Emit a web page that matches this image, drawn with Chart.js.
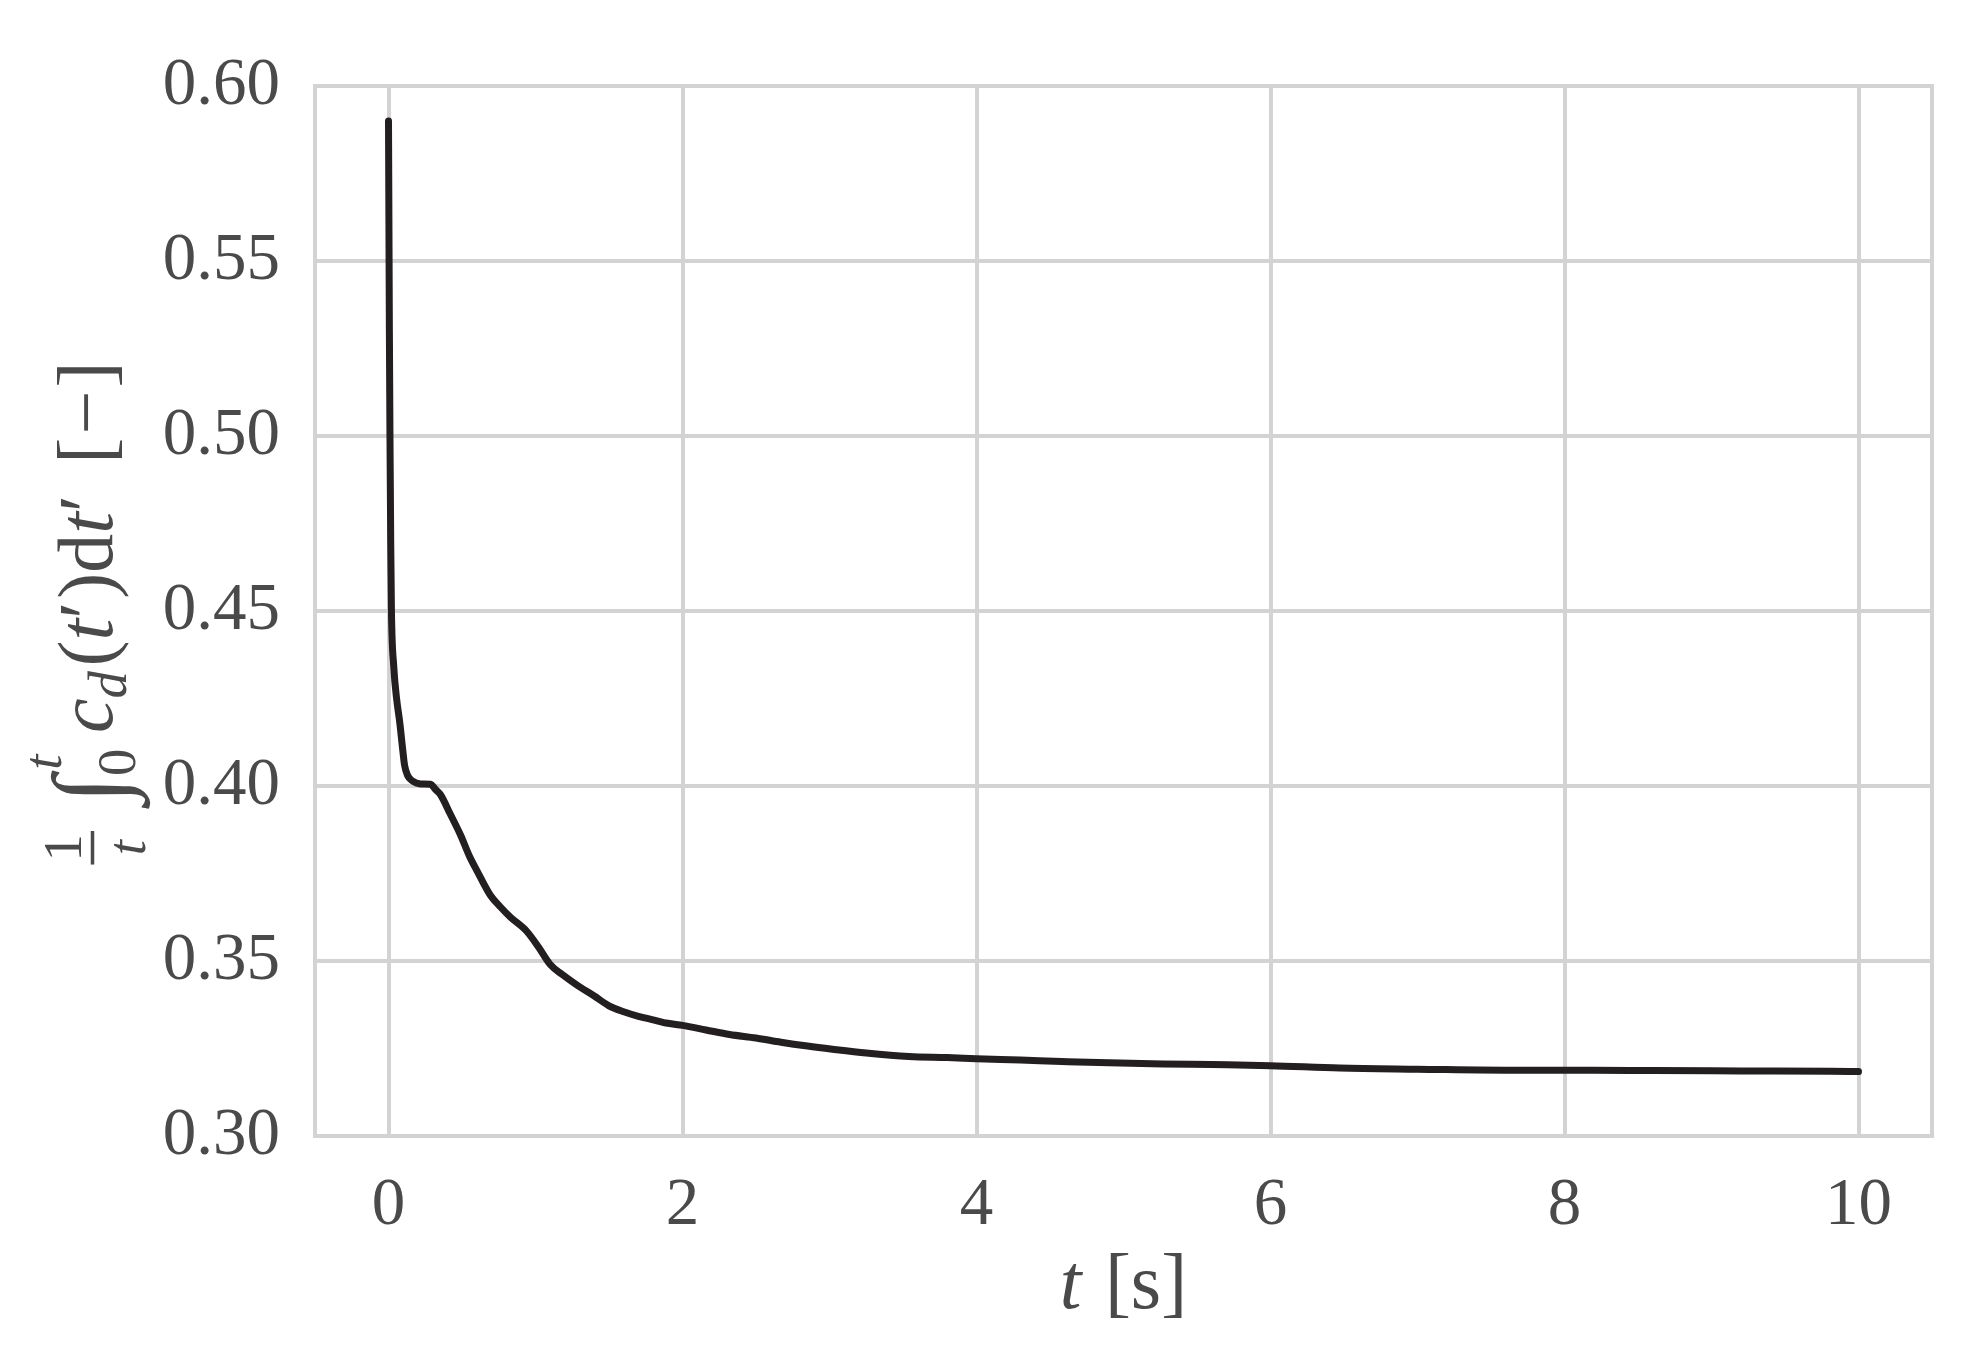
<!DOCTYPE html>
<html>
<head>
<meta charset="utf-8">
<script src="https://cdn.jsdelivr.net/npm/chart.js@4.4.0/dist/chart.umd.min.js"></script>
<style>
  html, body { margin: 0; padding: 0; background: #fff; }
</style>
</head>
<body>
<canvas id="myChart" width="1986" height="1367"></canvas>
<script>
// tempo [s] e media acumulada do coeficiente de arrasto
const tempo = [0, 0.003, 0.006, 0.01, 0.015, 0.02, 0.036, 0.055, 0.077, 0.095, 0.109, 0.13, 0.161, 0.22, 0.286,
  0.32, 0.354, 0.42, 0.49, 0.55, 0.603, 0.694, 0.76, 0.83, 0.94, 1.02, 1.10, 1.18, 1.28, 1.40, 1.50, 1.60,
  1.70, 1.80, 1.90, 2.0, 2.16, 2.32, 2.5, 2.67, 2.85, 3.02, 3.25, 3.54, 3.8, 4.0, 4.3, 4.58, 4.9, 5.27, 5.6,
  6.0, 6.47, 7.0, 7.69, 8.2, 8.6, 9.2, 9.81, 10.0]
const cdMedio = [0.590, 0.560, 0.530, 0.500, 0.470, 0.450, 0.434, 0.425, 0.418, 0.411, 0.406, 0.403, 0.4015, 0.4006, 0.4005,
  0.399, 0.3975, 0.392, 0.386, 0.380, 0.3757, 0.3687, 0.3655, 0.3625, 0.3585, 0.354, 0.349, 0.3462, 0.3432, 0.340, 0.3372, 0.3355,
  0.3342, 0.3332, 0.3322, 0.3316, 0.3303, 0.3290, 0.3280, 0.3268, 0.3257, 0.3248, 0.3237, 0.3227, 0.3224, 0.3221, 0.3217, 0.3213, 0.3209, 0.3206, 0.3204,
  0.3201, 0.3194, 0.3191, 0.3188, 0.3188, 0.3187, 0.3186, 0.3185, 0.3184]

const xTicks = [0, 2, 4, 6, 8, 10]
const yTicks = [0.30, 0.35, 0.40, 0.45, 0.50, 0.55, 0.60]

const FONTE = '"Liberation Serif", "DejaVu Serif", serif'
const COR_TEXTO = '#4a4a4a'
const COR_GRADE = '#d3d3d3'
const TAM_TITULO = 78

const fonte = (tam, italico) => (italico ? 'italic ' : '') + tam + 'px ' + FONTE

// desenha uma sequencia de pedacos de texto (formula simples) centrada em x=0
const desenhaFormula = (ctx, pedacos, tam) => {
  const larguras = pedacos.map((p) => {
    if (p.gap) return p.gap * tam
    if (p.frac) {
      ctx.font = fonte(tam * 0.7, false)
      const a = ctx.measureText(p.frac[0]).width
      ctx.font = fonte(tam * 0.7, true)
      const b = ctx.measureText(p.frac[1]).width
      return Math.max(a, b) + tam * 0.18
    }
    ctx.font = fonte(tam * (p.s || 1), p.it)
    return p.noAdv ? 0 : ctx.measureText(p.t).width
  })
  const total = larguras.reduce((s, w) => s + w, 0)
  let x = -total / 2
  ctx.fillStyle = COR_TEXTO
  ctx.strokeStyle = COR_TEXTO
  ctx.textBaseline = 'alphabetic'
  pedacos.forEach((p, i) => {
    if (p.frac) {
      const w = larguras[i]
      const cx = x + w / 2
      ctx.textAlign = 'center'
      ctx.font = fonte(tam * 0.7, false)
      ctx.fillText(p.frac[0], cx, -tam * 0.4)
      ctx.font = fonte(tam * 0.7, true)
      ctx.fillText(p.frac[1], cx, tam * 0.42)
      ctx.lineWidth = tam * 0.045
      ctx.beginPath()
      ctx.moveTo(x + tam * 0.05, -tam * 0.25)
      ctx.lineTo(x + w - tam * 0.05, -tam * 0.25)
      ctx.stroke()
    } else if (!p.gap) {
      ctx.textAlign = 'left'
      ctx.font = fonte(tam * (p.s || 1), p.it)
      ctx.fillText(p.t, x + (p.dx || 0) * tam, (p.dy || 0) * tam)
    }
    x += larguras[i]
  })
}

const tituloY = [
  { frac: ['1', 't'] },
  { gap: 0.3 },
  { t: '∫', s: 1.3, dy: 0.14 },
  { t: 't', it: true, s: 0.7, dy: -0.66, dx: 0.08, noAdv: true },
  { t: '0', s: 0.7, dy: 0.3 },
  { gap: 0.2 },
  { t: 'c', it: true },
  { t: 'd', it: true, s: 0.7, dy: 0.18 },
  { gap: 0.06 },
  { t: '(' },
  { t: 't', it: true },
  { t: '′' },
  { gap: 0.04 },
  { t: ')' },
  { t: 'd' },
  { t: 't', it: true },
  { t: '′' },
  { gap: 0.4 },
  { t: '[' },
  { gap: 0.04 },
  { t: '−' },
  { gap: 0.04 },
  { t: ']' }
]

const tituloX = [
  { t: 't', it: true },
  { gap: 0.3 },
  { t: '[s]' }
]

const moldura = {
  id: 'moldura',
  beforeDatasetsDraw(chart) {
    const { ctx, chartArea: a } = chart
    ctx.save()
    ctx.strokeStyle = COR_GRADE
    ctx.lineWidth = 4
    ctx.strokeRect(a.left, a.top, a.right - a.left, a.bottom - a.top)
    ctx.restore()
  },
  afterDraw(chart) {
    const { ctx, chartArea: a } = chart
    ctx.save()
    ctx.translate(112, (a.top + a.bottom) / 2 + 4)
    ctx.rotate(-Math.PI / 2)
    desenhaFormula(ctx, tituloY, TAM_TITULO)
    ctx.restore()
    ctx.save()
    ctx.translate((a.left + a.right) / 2, 1308)
    desenhaFormula(ctx, tituloX, TAM_TITULO)
    ctx.restore()
  }
}

const makeConfig = () => ({
  type: 'line',
  data: {
    datasets: [{
      data: tempo.map((t, i) => ({ x: t, y: cdMedio[i] })),
      borderColor: '#231f20',
      borderWidth: 7,
      pointRadius: 0,
      cubicInterpolationMode: 'monotone',
      borderCapStyle: 'round',
      borderJoinStyle: 'round',
      fill: false
    }]
  },
  options: {
    responsive: false,
    animation: false,
    layout: { padding: { top: 86, right: 54, left: 0, bottom: 0 } },
    plugins: { legend: { display: false }, tooltip: { enabled: false } },
    scales: {
      x: {
        type: 'linear',
        min: -0.5,
        max: 10.5,
        afterBuildTicks: (scale) => { scale.ticks = xTicks.map((v) => ({ value: v })) },
        afterFit: (scale) => { scale.height = 231 },
        grid: { color: COR_GRADE, lineWidth: 4, drawTicks: false },
        border: { display: false },
        ticks: {
          color: COR_TEXTO,
          font: { family: FONTE, size: 67 },
          padding: 30,
          maxRotation: 0,
          callback: (v) => String(v)
        }
      },
      y: {
        min: 0.30,
        max: 0.60,
        afterBuildTicks: (scale) => { scale.ticks = yTicks.map((v) => ({ value: v })) },
        afterFit: (scale) => { scale.width = 315 },
        grid: { color: COR_GRADE, lineWidth: 4, drawTicks: false },
        border: { display: false },
        ticks: {
          color: COR_TEXTO,
          font: { family: FONTE, size: 67 },
          padding: 35,
          callback: (v) => v.toFixed(2)
        }
      }
    }
  },
  plugins: [moldura]
})

new Chart(document.getElementById('myChart'), makeConfig())
</script>
</body>
</html>
